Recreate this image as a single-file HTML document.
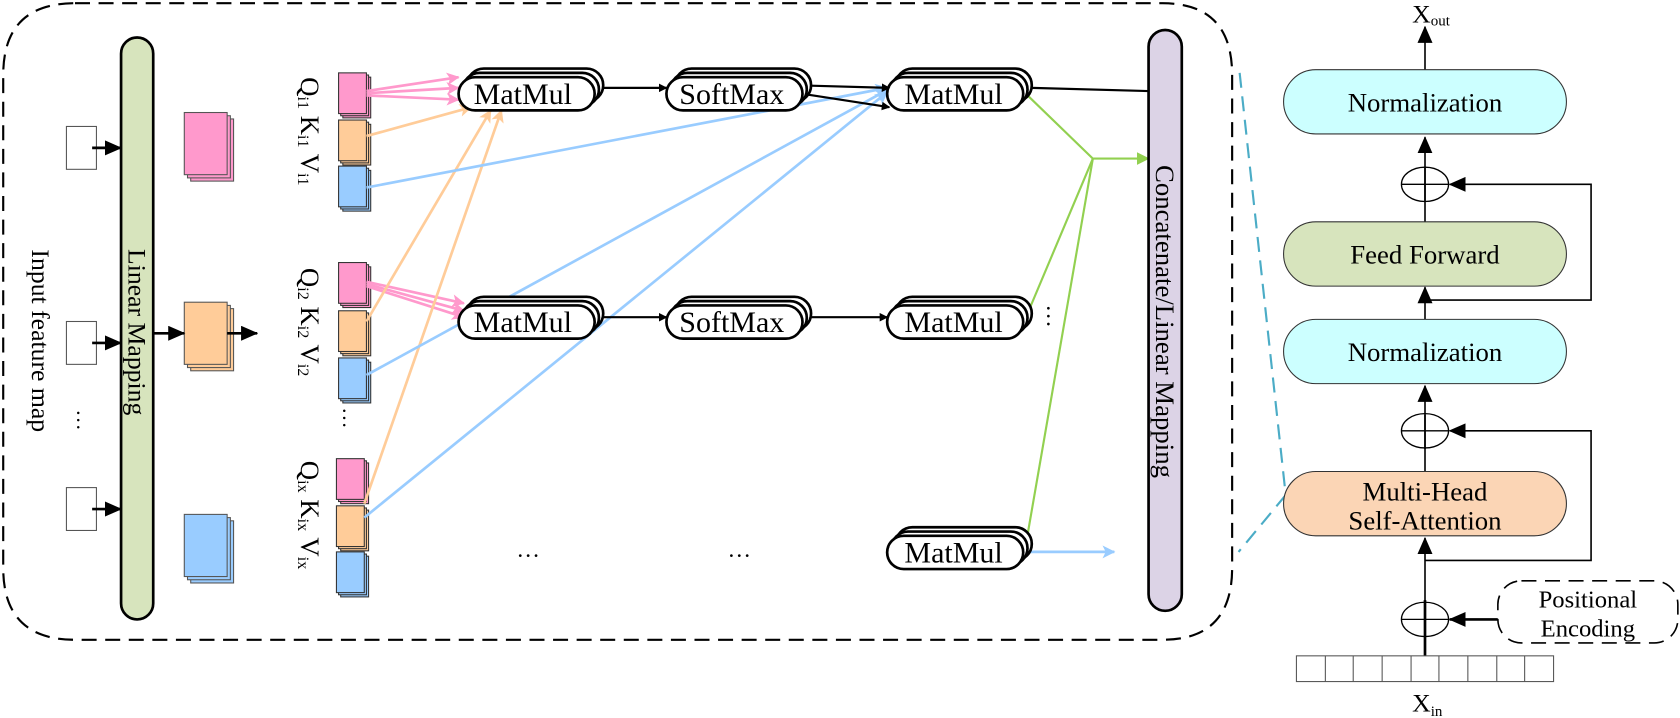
<!DOCTYPE html>
<html><head><meta charset="utf-8"><style>html,body{margin:0;padding:0;background:#fff}svg{display:block}text{font-family:"Liberation Serif",serif}</style></head>
<body>
<svg width="1680" height="718" viewBox="0 0 1568 670" preserveAspectRatio="none" xmlns="http://www.w3.org/2000/svg">
<defs>
<marker id="ab" markerWidth="8" markerHeight="8" refX="7" refY="4" orient="auto" markerUnits="userSpaceOnUse"><path d="M0,0 L8,4 L0,8 z" fill="#000"/></marker>
<marker id="abL" markerWidth="16" markerHeight="14" refX="15" refY="7" orient="auto" markerUnits="userSpaceOnUse"><path d="M0,0 L16,7 L0,14 z" fill="#000"/></marker>
<marker id="ap" markerWidth="12" markerHeight="12" refX="11" refY="6" orient="auto" markerUnits="userSpaceOnUse"><path d="M0,0 L12,6 L0,12 L3,6 z" fill="#ff99cc"/></marker>
<marker id="ao" markerWidth="12" markerHeight="12" refX="11" refY="6" orient="auto" markerUnits="userSpaceOnUse"><path d="M0,0 L12,6 L0,12 L3,6 z" fill="#ffcc99"/></marker>
<marker id="abl" markerWidth="12" markerHeight="12" refX="11" refY="6" orient="auto" markerUnits="userSpaceOnUse"><path d="M0,0 L12,6 L0,12 L3,6 z" fill="#99ccff"/></marker>
<marker id="ag" markerWidth="12" markerHeight="12" refX="11" refY="6" orient="auto" markerUnits="userSpaceOnUse"><path d="M0,0 L12,6 L0,12 z" fill="#92d050"/></marker>
</defs>

<path d="M70,3 H1085 Q1150,3 1150,70 V530 Q1150,597 1085,597 H70 Q3,597 3,530 V70 Q3,3 70,3 Z" fill="none" stroke="#000" stroke-width="2" stroke-dasharray="14,8"/>

<g fill="#fff" stroke="#555" stroke-width="1">
<rect x="62" y="118" width="28" height="40"/><rect x="62" y="300" width="28" height="40"/><rect x="62" y="455" width="28" height="40"/>
</g>
<g stroke="#000" stroke-width="2.5">
<line x1="86" y1="138" x2="113" y2="138" marker-end="url(#abL)"/>
<line x1="86" y1="320" x2="113" y2="320" marker-end="url(#abL)"/>
<line x1="86" y1="475" x2="113" y2="475" marker-end="url(#abL)"/>
</g>
<text transform="translate(30,318) rotate(90)" font-size="24" text-anchor="middle">Input feature map</text>
<text x="78" y="398" font-size="20" text-anchor="middle" transform="rotate(90 78 392)">…</text>

<rect x="113" y="35" width="30" height="543" rx="15" fill="#d7e4bd" stroke="#000" stroke-width="2.5"/>
<text transform="translate(120,310) rotate(90)" font-size="24" text-anchor="middle">Linear Mapping</text>

<g stroke="#555" stroke-width="1">
<rect x="178" y="111" width="40" height="58" fill="#ff99cc"/><rect x="175" y="108" width="40" height="58" fill="#ff99cc"/><rect x="172" y="105" width="40" height="58" fill="#ff99cc"/>
<rect x="178" y="288" width="40" height="58" fill="#ffcc99"/><rect x="175" y="285" width="40" height="58" fill="#ffcc99"/><rect x="172" y="282" width="40" height="58" fill="#ffcc99"/>
<rect x="178" y="486" width="40" height="58" fill="#99ccff"/><rect x="175" y="483" width="40" height="58" fill="#99ccff"/><rect x="172" y="480" width="40" height="58" fill="#99ccff"/>
</g>
<g stroke="#000" stroke-width="2.5">
<line x1="143" y1="311" x2="172" y2="311" marker-end="url(#abL)"/>
<line x1="212" y1="311" x2="240" y2="311" marker-end="url(#abL)"/>
</g>

<g stroke="#333" stroke-width="1">
<g fill="#ff99cc"><rect x="320" y="72" width="26" height="38"/><rect x="318" y="70" width="26" height="38"/><rect x="316" y="68" width="26" height="38"/></g>
<g fill="#ffcc99"><rect x="320" y="116" width="26" height="38"/><rect x="318" y="114" width="26" height="38"/><rect x="316" y="112" width="26" height="38"/></g>
<g fill="#99ccff"><rect x="320" y="159" width="26" height="38"/><rect x="318" y="157" width="26" height="38"/><rect x="316" y="155" width="26" height="38"/></g>
<g fill="#ff99cc"><rect x="320" y="249" width="26" height="38"/><rect x="318" y="247" width="26" height="38"/><rect x="316" y="245" width="26" height="38"/></g>
<g fill="#ffcc99"><rect x="320" y="294" width="26" height="38"/><rect x="318" y="292" width="26" height="38"/><rect x="316" y="290" width="26" height="38"/></g>
<g fill="#99ccff"><rect x="320" y="338" width="26" height="38"/><rect x="318" y="336" width="26" height="38"/><rect x="316" y="334" width="26" height="38"/></g>
<g fill="#ff99cc"><rect x="318" y="432" width="26" height="38"/><rect x="316" y="430" width="26" height="38"/><rect x="314" y="428" width="26" height="38"/></g>
<g fill="#ffcc99"><rect x="318" y="476" width="26" height="38"/><rect x="316" y="474" width="26" height="38"/><rect x="314" y="472" width="26" height="38"/></g>
<g fill="#99ccff"><rect x="318" y="519" width="26" height="38"/><rect x="316" y="517" width="26" height="38"/><rect x="314" y="515" width="26" height="38"/></g>
</g>
<g font-size="25">
<text transform="translate(281,72) rotate(90)">Q<tspan font-size="15" dy="3">i1</tspan><tspan dy="-3"> K</tspan><tspan font-size="15" dy="3">i1</tspan><tspan dy="-3">  V</tspan><tspan font-size="15" dy="3">i1</tspan></text>
<text transform="translate(281,250) rotate(90)">Q<tspan font-size="15" dy="3">i2</tspan><tspan dy="-3"> K</tspan><tspan font-size="15" dy="3">i2</tspan><tspan dy="-3">  V</tspan><tspan font-size="15" dy="3">i2</tspan></text>
<text transform="translate(281,430) rotate(90)">Q<tspan font-size="15" dy="3">ix</tspan><tspan dy="-3"> K</tspan><tspan font-size="15" dy="3">ix</tspan><tspan dy="-3">  V</tspan><tspan font-size="15" dy="3">ix</tspan></text>
</g>
<text x="325" y="395" font-size="20" text-anchor="middle" transform="rotate(90 325 390)">…</text>

<g stroke-width="2.5" fill="none">
<line x1="342" y1="85" x2="428" y2="72" stroke="#ff99cc" marker-end="url(#ap)"/>
<line x1="342" y1="87" x2="428" y2="82" stroke="#ff99cc" marker-end="url(#ap)"/>
<line x1="342" y1="89" x2="428" y2="93" stroke="#ff99cc" marker-end="url(#ap)"/>
<line x1="342" y1="127" x2="440" y2="100" stroke="#ffcc99" marker-end="url(#ao)"/>
<line x1="342" y1="263" x2="433" y2="283" stroke="#ff99cc" marker-end="url(#ap)"/>
<line x1="342" y1="265" x2="433" y2="290" stroke="#ff99cc" marker-end="url(#ap)"/>
<line x1="342" y1="267" x2="433" y2="296" stroke="#ff99cc" marker-end="url(#ap)"/>
<line x1="342" y1="300" x2="458" y2="103" stroke="#ffcc99" marker-end="url(#ao)"/>
<line x1="340" y1="470" x2="468" y2="103" stroke="#ffcc99" marker-end="url(#ao)"/>
<line x1="342" y1="175" x2="828" y2="82" stroke="#99ccff" marker-end="url(#abl)"/>
<line x1="342" y1="350" x2="828" y2="84" stroke="#99ccff" marker-end="url(#abl)"/>
<line x1="340" y1="483" x2="828" y2="86" stroke="#99ccff" marker-end="url(#abl)"/>
<line x1="955" y1="515" x2="1040" y2="515" stroke="#99ccff" marker-end="url(#abl)"/>
<polyline points="958,88 1020,148" stroke="#92d050" stroke-width="2"/>
<polyline points="958,295 1020,148" stroke="#92d050" stroke-width="2"/>
<polyline points="958,505 1020,148" stroke="#92d050" stroke-width="2"/>
<line x1="1020" y1="148" x2="1072" y2="148" stroke="#92d050" stroke-width="2" marker-end="url(#ag)"/>
</g>

<g fill="#fff" stroke="#000" stroke-width="2.5" font-size="28" text-anchor="middle">
<g><rect x="436" y="64" width="127" height="31" rx="15.5"/><rect x="432" y="68" width="127" height="31" rx="15.5"/><rect x="428" y="72" width="127" height="31" rx="15.5"/><text x="488" y="97" stroke="none" fill="#000">MatMul</text></g>
<g><rect x="436" y="277" width="127" height="31" rx="15.5"/><rect x="432" y="281" width="127" height="31" rx="15.5"/><rect x="428" y="285" width="127" height="31" rx="15.5"/><text x="488" y="310" stroke="none" fill="#000">MatMul</text></g>
<g><rect x="630" y="64" width="127" height="31" rx="15.5"/><rect x="626" y="68" width="127" height="31" rx="15.5"/><rect x="622" y="72" width="127" height="31" rx="15.5"/><text x="683" y="97" stroke="none" fill="#000">SoftMax</text></g>
<g><rect x="630" y="277" width="127" height="31" rx="15.5"/><rect x="626" y="281" width="127" height="31" rx="15.5"/><rect x="622" y="285" width="127" height="31" rx="15.5"/><text x="683" y="310" stroke="none" fill="#000">SoftMax</text></g>
<g><rect x="836" y="64" width="127" height="31" rx="15.5"/><rect x="832" y="68" width="127" height="31" rx="15.5"/><rect x="828" y="72" width="127" height="31" rx="15.5"/><text x="890" y="97" stroke="none" fill="#000">MatMul</text></g>
<g><rect x="836" y="277" width="127" height="31" rx="15.5"/><rect x="832" y="281" width="127" height="31" rx="15.5"/><rect x="828" y="285" width="127" height="31" rx="15.5"/><text x="890" y="310" stroke="none" fill="#000">MatMul</text></g>
<g><rect x="836" y="492" width="127" height="31" rx="15.5"/><rect x="832" y="496" width="127" height="31" rx="15.5"/><rect x="828" y="500" width="127" height="31" rx="15.5"/><text x="890" y="525" stroke="none" fill="#000">MatMul</text></g>
</g>
<g stroke="#000" stroke-width="2" fill="none">
<line x1="563" y1="82" x2="622" y2="82" marker-end="url(#ab)"/>
<line x1="563" y1="296" x2="622" y2="296" marker-end="url(#ab)"/>
<line x1="757" y1="80" x2="830" y2="82" marker-end="url(#ab)"/>
<line x1="752" y1="88" x2="830" y2="100" marker-end="url(#ab)"/>
<line x1="757" y1="296" x2="828" y2="296" marker-end="url(#ab)"/>
<line x1="963" y1="82" x2="1072" y2="85"/>
</g>
<g font-size="22" text-anchor="middle">
<text x="493" y="520">…</text><text x="690" y="520">…</text>
<text x="982" y="300" transform="rotate(90 982 295)">…</text>
</g>

<rect x="1072" y="28" width="31" height="542" rx="15.5" fill="#dcd3e6" stroke="#000" stroke-width="2.5"/>
<text transform="translate(1079,300) rotate(90)" font-size="25" text-anchor="middle">Concatenate/Linear Mapping</text>

<polyline points="1157,68 1200,462 1156,515" fill="none" stroke="#4bacc6" stroke-width="2" stroke-dasharray="14,8"/>

<g stroke="#000" stroke-width="1.5" fill="none">
<line x1="1330" y1="65" x2="1330" y2="25" marker-end="url(#abL)"/>
<line x1="1330" y1="188" x2="1330" y2="128" marker-end="url(#abL)"/>
<line x1="1330" y1="298" x2="1330" y2="268" marker-end="url(#abL)"/>
<line x1="1330" y1="419" x2="1330" y2="360" marker-end="url(#abL)"/>
<line x1="1330" y1="562" x2="1330" y2="502" marker-end="url(#abL)"/>
<line x1="1330" y1="267" x2="1330" y2="156"/>
<line x1="1330" y1="500" x2="1330" y2="387"/>
<line x1="1330" y1="612" x2="1330" y2="560" stroke-width="2.5"/>
<polyline points="1330,280 1485,280 1485,172 1353,172" marker-end="url(#abL)"/>
<polyline points="1330,523 1485,523 1485,402 1353,402" marker-end="url(#abL)"/>
<line x1="1398" y1="578" x2="1353" y2="578" stroke-width="2.5" marker-end="url(#abL)"/>
</g>
<g stroke="#000" stroke-width="1.2">
<ellipse cx="1330" cy="172" rx="22" ry="16" fill="none"/>
<ellipse cx="1330" cy="402" rx="22" ry="16" fill="none"/>
<ellipse cx="1330" cy="578" rx="22" ry="16" fill="none"/>
<line x1="1308" y1="172" x2="1352" y2="172"/><line x1="1308" y1="402" x2="1352" y2="402"/><line x1="1308" y1="578" x2="1352" y2="578"/>
</g>
<g stroke="#333" stroke-width="1" font-size="25" text-anchor="middle">
<rect x="1198" y="65" width="264" height="60" rx="30" fill="#ccffff"/>
<rect x="1198" y="207" width="264" height="60" rx="30" fill="#d7e4bd"/>
<rect x="1198" y="298" width="264" height="60" rx="30" fill="#ccffff"/>
<rect x="1198" y="440" width="264" height="60" rx="30" fill="#fbd5b5"/>
<text x="1330" y="104" stroke="none">Normalization</text>
<text x="1330" y="246" stroke="none">Feed Forward</text>
<text x="1330" y="337" stroke="none">Normalization</text>
<text x="1330" y="467" stroke="none">Multi-Head</text>
<text x="1330" y="494" stroke="none">Self-Attention</text>
</g>
<rect x="1398" y="542" width="168" height="58" rx="22" fill="#fff" stroke="#000" stroke-width="1.5" stroke-dasharray="14,8"/>
<text x="1482" y="567" font-size="23" text-anchor="middle">Positional</text>
<text x="1482" y="594" font-size="23" text-anchor="middle">Encoding</text>
<g fill="#fff" stroke="#555" stroke-width="1">
<rect x="1210" y="612" width="240" height="24"/>
<line x1="1237" y1="612" x2="1237" y2="636"/><line x1="1263" y1="612" x2="1263" y2="636"/><line x1="1290" y1="612" x2="1290" y2="636"/><line x1="1317" y1="612" x2="1317" y2="636"/><line x1="1343" y1="612" x2="1343" y2="636"/><line x1="1370" y1="612" x2="1370" y2="636"/><line x1="1397" y1="612" x2="1397" y2="636"/><line x1="1423" y1="612" x2="1423" y2="636"/>
</g>
<text x="1318" y="21" font-size="24">X<tspan font-size="14" dy="3">out</tspan></text>
<text x="1318" y="664" font-size="24">X<tspan font-size="14" dy="4">in</tspan></text>
</svg>
</body></html>
